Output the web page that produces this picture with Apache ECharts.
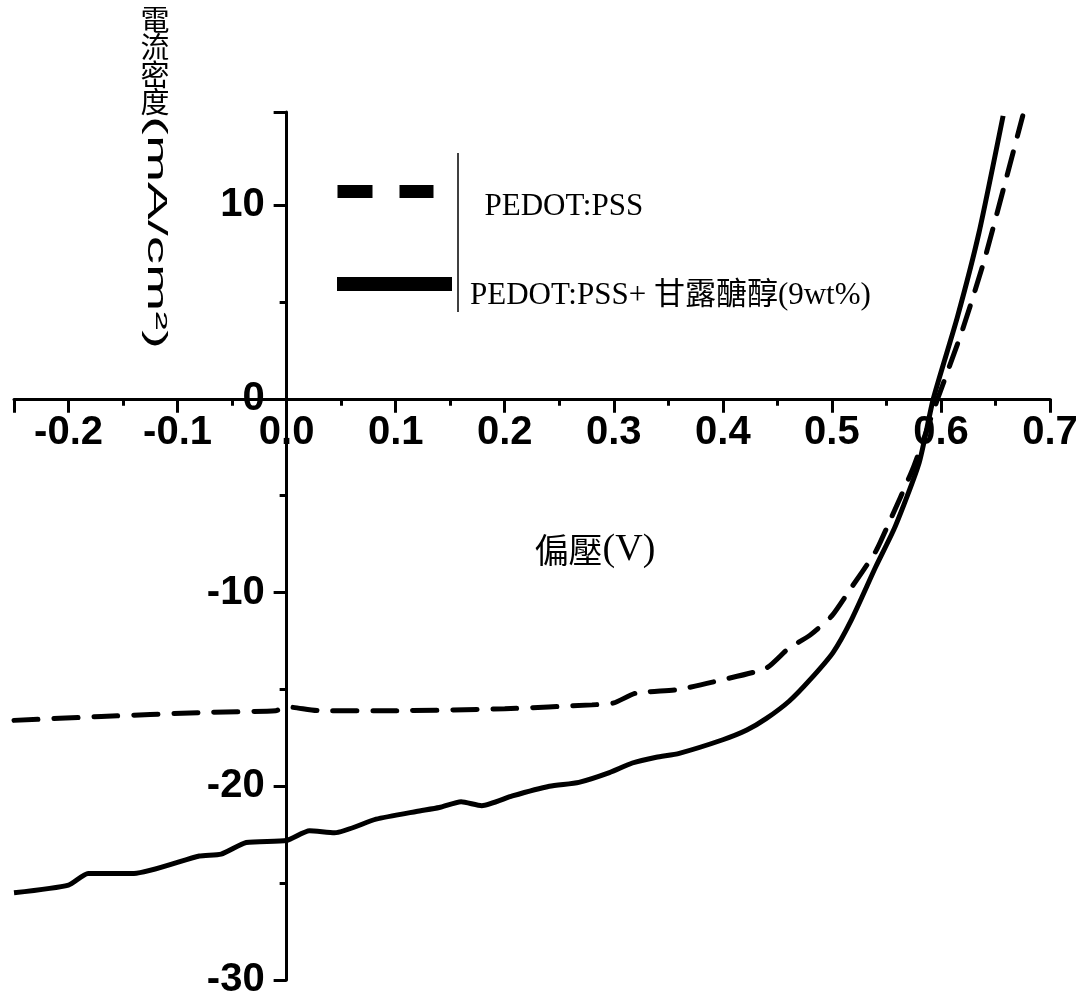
<!DOCTYPE html>
<html><head><meta charset="utf-8">
<script src="https://cdn.jsdelivr.net/npm/echarts@6/dist/echarts.min.js"></script>
<style>html,body{margin:0;padding:0;background:#fff}#c{width:1083px;height:996px}</style>
</head><body><div id="c"></div>
<script>
const seriesNames = ['PEDOT:PSS', 'PEDOT:PSS+ 甘露醣醇(9wt%)'];
const dashV = [-0.25,-0.17,-0.08,-0.01,0.0,0.03,0.1,0.2,0.28,0.30,0.32,0.36,0.40,0.44,0.46,0.48,0.50,0.516,0.54,0.55,0.575,0.597,0.62,0.64,0.66,0.675];
const dashJ = [-16.6,-16.4,-16.2,-16.1,-15.9,-16.1,-16.1,-16.0,-15.8,-15.7,-15.2,-15.0,-14.5,-13.9,-12.9,-12.2,-11.2,-9.9,-7.9,-6.7,-3.5,0,3.6,7.2,11.4,14.6];
const solidV = [-0.25,-0.20,-0.182,-0.14,-0.08,-0.06,-0.037,0,0.021,0.044,0.082,0.119,0.14,0.16,0.179,0.207,0.241,0.268,0.296,0.317,0.339,0.36,0.40,0.422,0.44,0.461,0.48,0.501,0.518,0.54,0.558,0.58,0.593,0.615,0.635,0.657];
const solidJ = [-25.5,-25.1,-24.5,-24.5,-23.6,-23.5,-22.9,-22.8,-22.3,-22.4,-21.7,-21.3,-21.1,-20.8,-21.0,-20.5,-20.0,-19.8,-19.3,-18.8,-18.5,-18.3,-17.6,-17.1,-16.5,-15.6,-14.5,-13.1,-11.4,-8.7,-6.6,-3.3,0,4.2,8.6,14.6];
const xRange = [-0.25, 0.7];
const yRange = [-30, 14.8];
const yStep = 10;
const xTitle = '偏壓';
const xUnit = '(V)';
const yTitleCJK = '電流密度';
const yTitleUnit = '(mA/cm²)';

const zip = (a, b) => a.map((v, i) => [v, b[i]]);
const numFont = "'Liberation Sans',Arial,sans-serif";
const serif = "'Liberation Serif','Times New Roman',serif";
const cjk = "'Noto Sans CJK TC','Noto Sans CJK SC',sans-serif";

const W = 1083, H = 996;
const G = {left: 14, right: 33, top: 112, bottom: 16};
const gw = W - G.left - G.right, gh = H - G.top - G.bottom;
// put axes through zero using offsets (negative = into the grid)
const xAxisOffset = -gh * (0 - yRange[0]) / (yRange[1] - yRange[0]);
const yAxisOffset = -gw * (0 - xRange[0]) / (xRange[1] - xRange[0]);

const chart = echarts.init(document.getElementById('c'), null, {renderer: 'canvas'});
chart.setOption({
  backgroundColor: '#fff',
  animation: false,
  grid: Object.assign({containLabel: false, outerBoundsMode: 'none'}, G),
  xAxis: {
    type: 'value', min: xRange[0], max: xRange[1], splitNumber: 10, position: 'bottom', offset: xAxisOffset,
    axisLine: {onZero: false, lineStyle: {color: '#000', width: 3}},
    axisTick: {show: true, length: 14, lineStyle: {color: '#000', width: 3}},
    minorTick: {show: true, splitNumber: 2, length: 7, lineStyle: {color: '#000', width: 3}},
    splitLine: {show: false},
    axisLabel: {
      color: '#000', fontFamily: numFont, fontWeight: 'bold', fontSize: 40, margin: 14,
      formatter: v => { const t = Math.round(v * 10); return Math.abs(v * 10 - t) < 1e-6 ? (t / 10).toFixed(1) : ''; }
    }
  },
  yAxis: {
    type: 'value', min: yRange[0], max: yRange[1], interval: yStep, position: 'left', offset: yAxisOffset,
    axisLine: {onZero: false, lineStyle: {color: '#000', width: 3}},
    axisTick: {show: true, length: 13, lineStyle: {color: '#000', width: 3}},
    minorTick: {show: true, splitNumber: 2, length: 7, lineStyle: {color: '#000', width: 3}},
    splitLine: {show: false},
    axisLabel: {
      color: '#000', fontFamily: numFont, fontWeight: 'bold', fontSize: 40, margin: 22,
      formatter: v => (Math.abs(v % 10) < 1e-6 ? String(Math.round(v)) : '')
    }
  },
  legend: [
    {
      data: [seriesNames[0]], left: 331, top: 185, padding: 0, orient: 'vertical',
      itemWidth: 96, itemHeight: 14, itemStyle: {opacity: 0},
      lineStyle: {width: 13, type: [35, 27], color: '#000', cap: 'butt'},
      formatter: n => '{t|' + n + '}',
      textStyle: {color: '#000', fontFamily: serif, fontSize: 31,
        rich: {t: {fontFamily: serif, fontSize: 31, color: '#000', padding: [30, 0, 0, 46]}}}
    },
    {
      data: [seriesNames[1]], left: 330, top: 277, padding: 0, orient: 'vertical',
      itemWidth: 115, itemHeight: 14, itemStyle: {opacity: 0},
      lineStyle: {width: 14, type: 'solid', color: '#000', cap: 'butt'},
      formatter: n => '{t|' + n + '}',
      textStyle: {color: '#000', fontFamily: serif, fontSize: 31,
        rich: {t: {fontFamily: serif + ",'Noto Sans CJK TC'", fontSize: 31, color: '#000', padding: [24, 0, 0, 13]}}}
    }
  ],
  series: [
    {
      name: seriesNames[0], type: 'line', data: zip(dashV, dashJ), showSymbol: false, symbol: 'none',
      smooth: 0.2, itemStyle: {color: '#000'}, lineStyle: {color: '#000', width: 5, type: [24, 16], cap: 'round'}
    },
    {
      name: seriesNames[1], type: 'line', data: zip(solidV, solidJ), showSymbol: false, symbol: 'none',
      smooth: 0.2, itemStyle: {color: '#000'}, lineStyle: {color: '#000', width: 5, type: 'solid'}
    }
  ],
  graphic: [
    {type: 'line', shape: {x1: 458, y1: 153, x2: 458, y2: 312}, style: {stroke: '#000', lineWidth: 1.5}},
    {type: 'text', x: 155, y: 6, style: {text: yTitleCJK.split('').join('\n'), font: "29px " + cjk, lineHeight: 27.5, fill: '#000', textAlign: 'center', verticalAlign: 'top'}},
    {type: 'text', x: 155, y: 116, rotation: -Math.PI / 2, scaleX: 2.1, style: {text: yTitleUnit, font: "27px 'Liberation Sans',sans-serif", fill: '#000', textAlign: 'left', verticalAlign: 'middle'}},
    {type: 'text', x: 595, y: 550, style: {
      text: '{a|' + xTitle + '}{b|' + xUnit + '}', textAlign: 'center', verticalAlign: 'middle',
      rich: {a: {fontFamily: cjk, fontSize: 34, fill: '#000'}, b: {fontFamily: serif, fontSize: 38, fill: '#000'}}
    }}
  ]
});
</script></body></html>
